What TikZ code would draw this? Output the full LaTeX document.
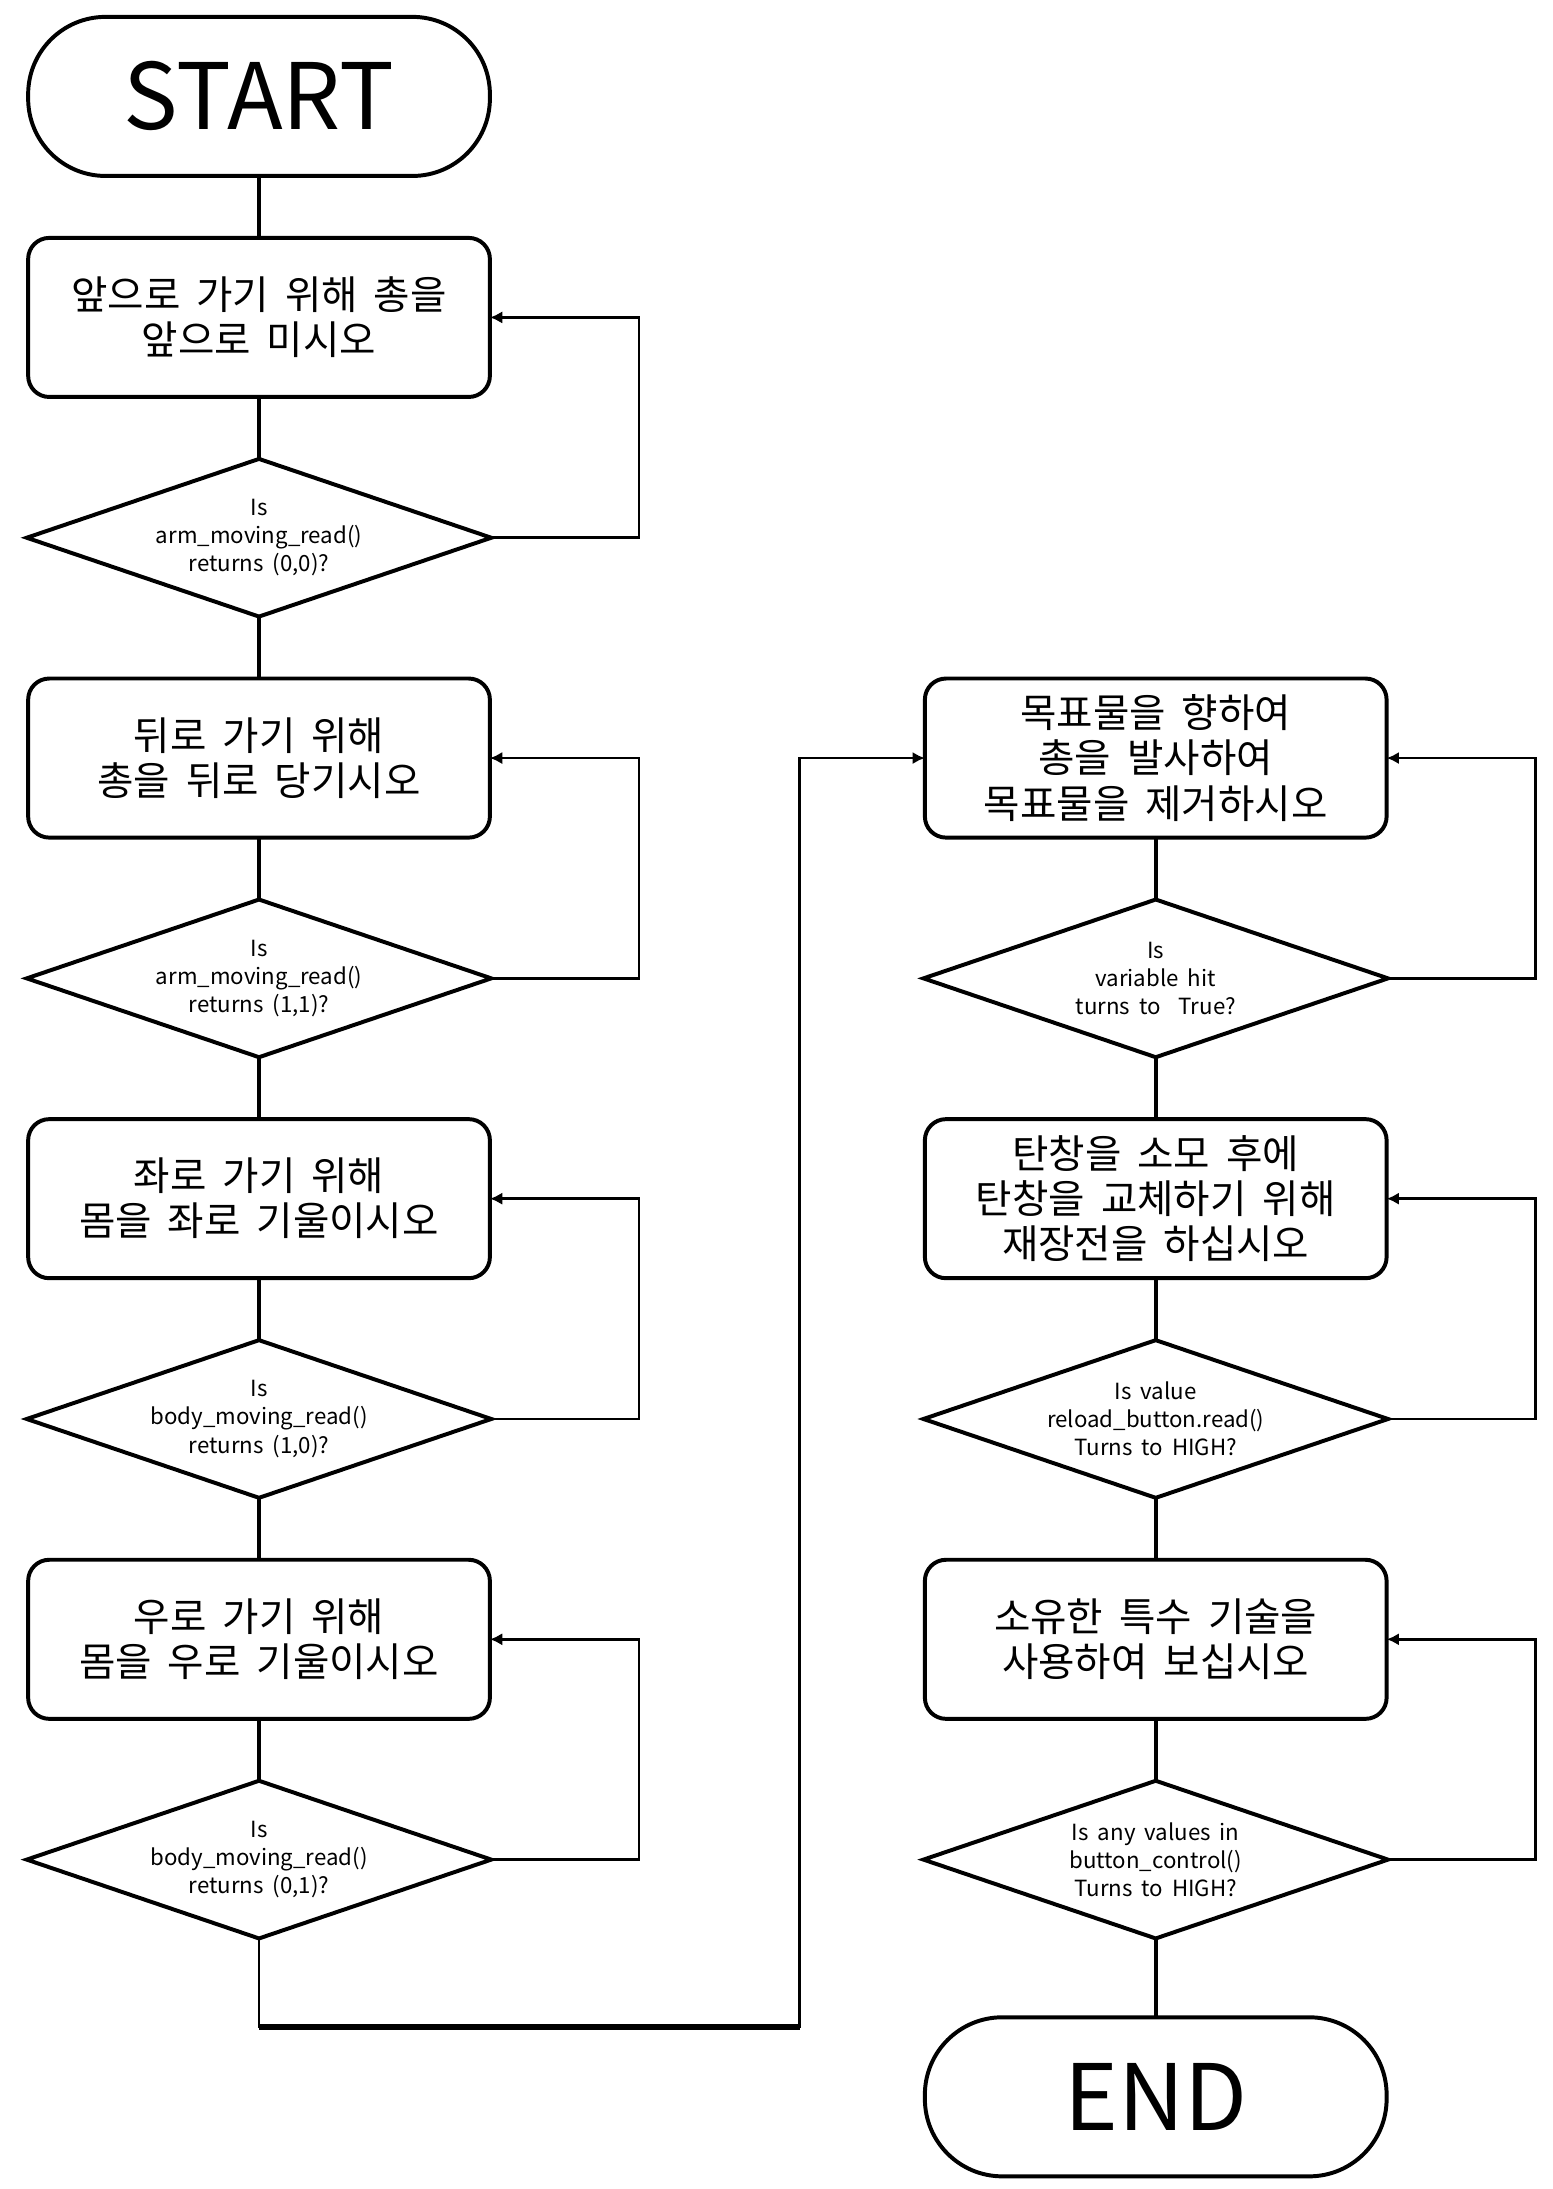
\documentclass[tikz,border=0pt]{standalone}
\usepackage{fontspec}
\setmainfont[WordSpace=1.8]{Noto Sans CJK KR}
\usepackage{tikz}
\usetikzlibrary{shapes.geometric, arrows.meta, positioning, calc}
\tikzstyle{terminal} = [rectangle, rounded corners=1.1cm, minimum width=6.56cm, minimum height=2.26cm, outer sep=0pt, text centered, draw=black, line width=1.6pt, font=\fontsize{37}{40}\selectfont]
\tikzstyle{process} = [rectangle, rounded corners=0.3cm, minimum width=6.56cm, minimum height=2.26cm, outer sep=0pt, text centered, align=center, draw=black, line width=1.6pt, font=\fontsize{16}{18.2}\selectfont]
\tikzstyle{decision} = [diamond, aspect=2.95, minimum width=6.6cm, minimum height=2.24cm, inner sep=0pt, outer sep=0pt, align=center, draw=black, line width=1.6pt, font=\fontsize{9}{11.4}\selectfont]
\tikzstyle{link} = [line width=1.6pt]
\tikzstyle{retry} = [line width=1.1pt, -{Latex[length=5pt,width=5pt]}]

\begin{document}
\begin{tikzpicture}[node distance=0.88cm]
    \useasboundingbox (0,0) rectangle (22.06,-31.1);

    % Left column
    \node (start) [terminal] at (3.68,-1.37) {START};
    \node (b1) [process, below=of start] {앞으로 가기 위해 총을\\앞으로 미시오};
    \node (d1) [decision, below=of b1] {Is\\arm\_moving\_read()\\returns (0,0)?};
    \node (b2) [process, below=of d1] {뒤로 가기 위해\\총을 뒤로 당기시오};
    \node (d2) [decision, below=of b2] {Is\\arm\_moving\_read()\\returns (1,1)?};
    \node (b3) [process, below=of d2] {좌로 가기 위해\\몸을 좌로 기울이시오};
    \node (d3) [decision, below=of b3] {Is\\body\_moving\_read()\\returns (1,0)?};
    \node (b4) [process, below=of d3] {우로 가기 위해\\몸을 우로 기울이시오};
    \node (d4) [decision, below=of b4] {Is\\body\_moving\_read()\\returns (0,1)?};

    % Right column
    \node (r1) [process, right=6.18cm of b2] {목표물을 향하여\\총을 발사하여\\목표물을 제거하시오};
    \node (rd1) [decision, below=of r1] {Is\\variable hit\\turns to~ True?};
    \node (r2) [process, below=of rd1] {탄창을 소모 후에\\탄창을 교체하기 위해\\재장전을 하십시오};
    \node (rd2) [decision, below=of r2] {Is value\\reload\_button.read()\\Turns to HIGH?};
    \node (r3) [process, below=of rd2] {소유한 특수 기술을\\사용하여 보십시오};
    \node (rd3) [decision, below=of r3] {Is any values in\\button\_control()\\Turns to HIGH?};
    \node (end) [terminal, below=1.12cm of rd3] {END};

    % Straight links
    \draw [link] (start) -- (b1);
    \draw [link] (b1) -- (d1);
    \draw [link] (d1) -- (b2);
    \draw [link] (b2) -- (d2);
    \draw [link] (d2) -- (b3);
    \draw [link] (b3) -- (d3);
    \draw [link] (d3) -- (b4);
    \draw [link] (b4) -- (d4);
    \draw [link] (r1) -- (rd1);
    \draw [link] (rd1) -- (r2);
    \draw [link] (r2) -- (rd2);
    \draw [link] (rd2) -- (r3);
    \draw [link] (r3) -- (rd3);
    \draw [link] (rd3) -- (end);

    % Retry loops
    \draw [retry] (d1.east) -- ++(2.1,0) |- (b1.east);
    \draw [retry] (d2.east) -- ++(2.1,0) |- (b2.east);
    \draw [retry] (d3.east) -- ++(2.1,0) |- (b3.east);
    \draw [retry] (d4.east) -- ++(2.1,0) |- (b4.east);
    \draw [retry] (rd1.east) -- ++(2.1,0) |- (r1.east);
    \draw [retry] (rd2.east) -- ++(2.1,0) |- (r2.east);
    \draw [retry] (rd3.east) -- ++(2.1,0) |- (r3.east);

    % Over to the right column
    \coordinate (turn) at (11.36,-28.8);
    \draw [retry] (d4.south) |- (turn) |- (r1.west);
    \draw [line width=2.4pt] (d4.south |- turn) -- (turn);

\end{tikzpicture}
\end{document}
